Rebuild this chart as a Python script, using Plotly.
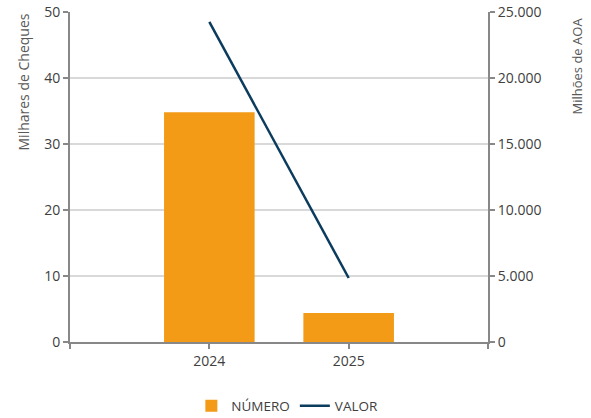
import plotly.graph_objects as go

years = ["2024", "2025"]
numero = [34.8, 4.4]          # Milhares de Cheques
valor = [24250, 4850]         # Milhões de AOA
left_title = "Milhares de Cheques"
right_title = "Milhões de AOA"

xpos = list(range(len(years)))

fig = go.Figure()
fig.add_trace(go.Bar(
    x=xpos, y=numero, name="NÚMERO", width=0.65,
    marker=dict(color="#F39A17", line=dict(width=0)),
    yaxis="y",
))
fig.add_trace(go.Scatter(
    x=xpos, y=valor, name="VALOR", mode="lines",
    line=dict(color="#0B3C5D", width=2.5),
    yaxis="y2",
))

tick_font = dict(family="Open Sans, sans-serif", size=14, color="#404040")

fig.update_layout(
    width=591, height=418,
    margin=dict(l=70, r=103, t=12, b=76, autoexpand=False),
    paper_bgcolor="white", plot_bgcolor="white",
    showlegend=True,
    legend=dict(orientation="h", x=0.52, xanchor="center", y=12 / 418, yref="container",
                yanchor="middle",
                font=dict(family="Open Sans, sans-serif", size=13.5, color="#404040")),
    xaxis=dict(
        range=[-1, 2], tickvals=[-1, 0, 1, 2], ticktext=["", years[0], years[1], ""],
        showline=True, linecolor="#888888", linewidth=2,
        ticks="outside", ticklen=5, tickcolor="#888888", tickwidth=1.5,
        showgrid=False, zeroline=False, tickfont=tick_font, automargin=False,
    ),
    yaxis=dict(
        range=[0, 50], dtick=10, showline=True, linecolor="#888888", linewidth=2,
        ticks="outside", ticklen=5, tickcolor="#888888", tickwidth=1.5,
        showgrid=True, gridcolor="#D9D9D9", gridwidth=2, zeroline=False,
        tickfont=tick_font, automargin=False,
    ),
    yaxis2=dict(
        range=[0, 25000], dtick=5000, overlaying="y", side="right",
        showline=True, linecolor="#888888", linewidth=2,
        ticks="outside", ticklen=5, tickcolor="#888888", tickwidth=1.5,
        showgrid=False, zeroline=False, tickfont=tick_font, automargin=False,
        tickformat=",d",
    ),
    separators=",.",
    annotations=[
        dict(text=left_title, textangle=-90, xref="paper", yref="paper",
             x=(23 - 70) / 418, y=(342 - 82.5) / 330, xanchor="center", yanchor="middle",
             showarrow=False,
             font=dict(family="Open Sans, sans-serif", size=14, color="#595959")),
        dict(text=right_title, textangle=-90, xref="paper", yref="paper",
             x=(576 - 70) / 418, y=(342 - 66.5) / 330, xanchor="center", yanchor="middle",
             showarrow=False,
             font=dict(family="Open Sans, sans-serif", size=13, color="#595959")),
    ],
)

fig.write_html("out.html", config={"displayModeBar": False},
               post_script="document.body.style.margin='0';")
